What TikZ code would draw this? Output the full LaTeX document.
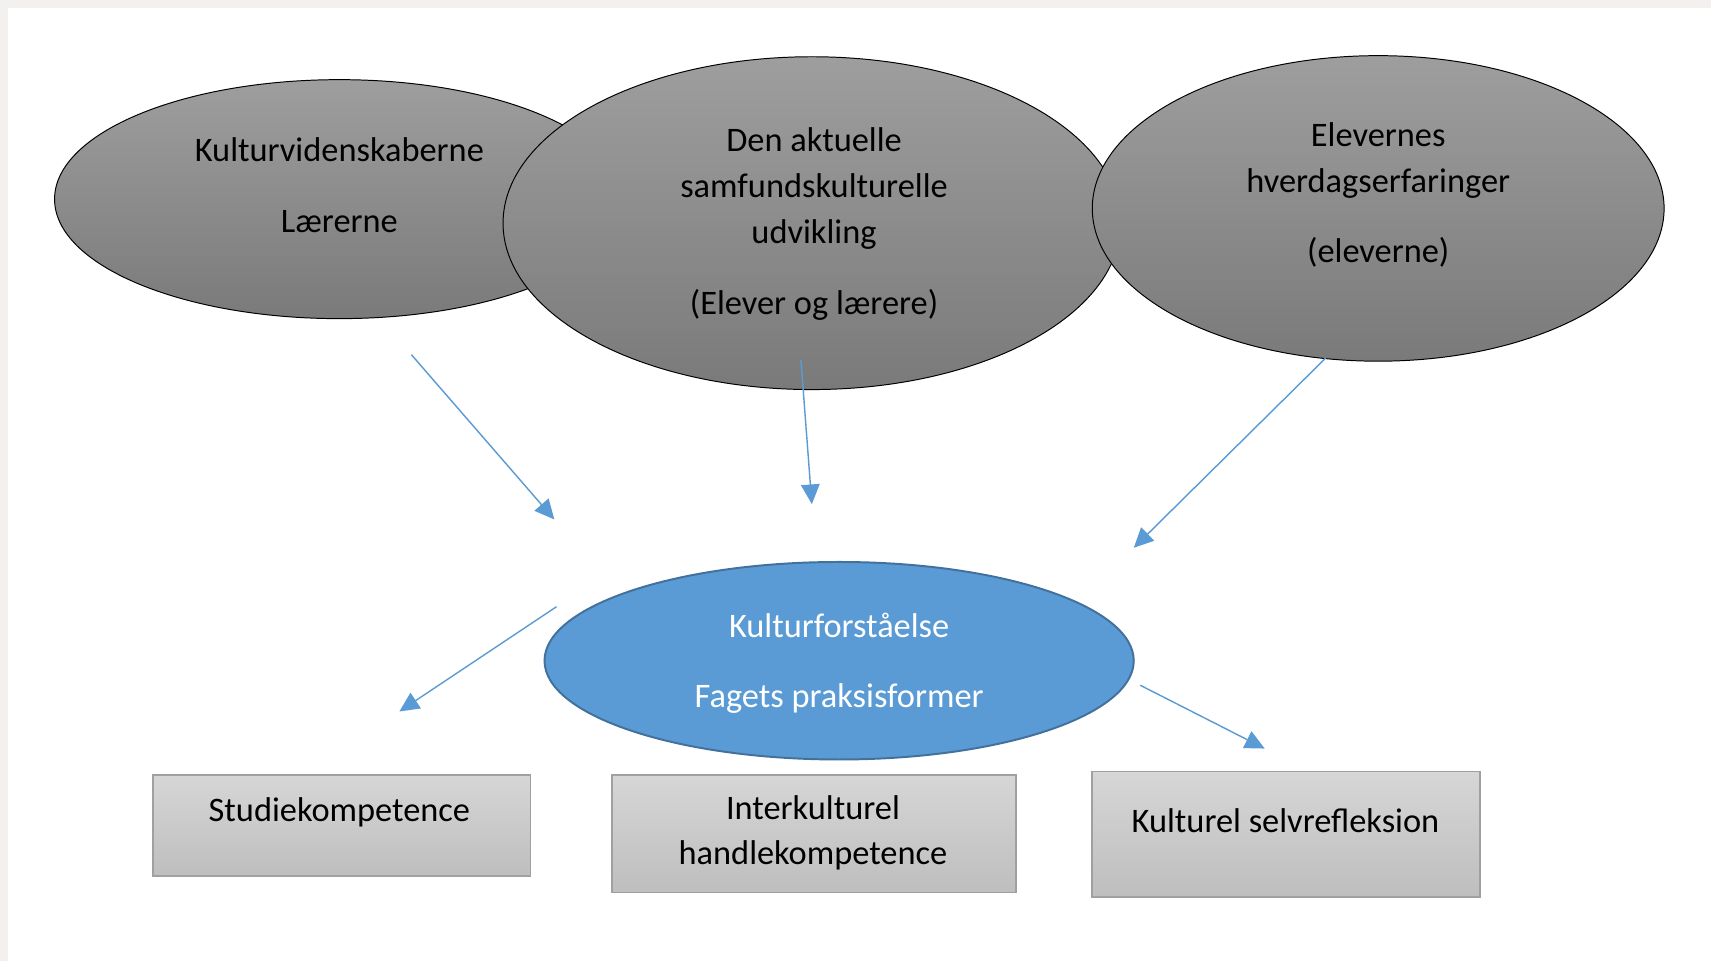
\documentclass[tikz,border=0pt]{standalone}
\usepackage{fontspec}
\setmainfont{Carlito}
\usetikzlibrary{shapes.geometric,arrows.meta}
\definecolor{frameGrey}{RGB}{242,241,239}
\definecolor{ellTop}{RGB}{158,158,158}
\definecolor{ellBot}{RGB}{122,122,122}
\definecolor{blueFill}{RGB}{91,155,213}
\definecolor{blueLine}{RGB}{65,113,156}
\definecolor{boxTop}{RGB}{214,214,214}
\definecolor{boxBot}{RGB}{190,190,190}
\definecolor{boxLine}{RGB}{160,160,160}
\definecolor{arrowBlue}{RGB}{91,155,213}
\begin{document}
\begin{tikzpicture}[x=1pt,y=-1pt,
 greyell/.style={ellipse, draw=black, line width=0.9pt, top color=ellTop, bottom color=ellBot, inner sep=0pt},
 blueell/.style={ellipse, draw=blueLine, line width=1.8pt, fill=blueFill, inner sep=0pt},
 greybox/.style={rectangle, draw=boxLine, line width=1.5pt, top color=boxTop, bottom color=boxBot, inner sep=0pt},
 txt/.style={anchor=base, inner sep=0pt, font=\fontsize{31.5}{42}\selectfont},
 wtxt/.style={txt, text=white},
 flow/.style={draw=arrowBlue, line width=1.3pt, -{Triangle[length=18pt,width=17pt]}}
]
\useasboundingbox (0,0) rectangle (1568,881);
\fill[frameGrey] (0,0) rectangle (1568,881);
\fill[white] (7,7) rectangle (1568,881);

% grey ellipses
\node[greyell, minimum width=522pt, minimum height=219pt] (e1) at (311,182.5) {};
\node[greyell, minimum width=566pt, minimum height=305pt] (e2) at (744,204.5) {};
\node[greyell, minimum width=524pt, minimum height=280pt] (e3) at (1263,191) {};

\node[txt] (e1a) at (311,148) {Kulturvidenskaberne};
\node[txt] (e1b) at (311,213) {Lærerne};

\node[txt] (e2a) at (746,139) {Den aktuelle};
\node[txt] (e2b) at (746,181) {samfundskulturelle};
\node[txt] (e2c) at (746,223) {udvikling};
\node[txt] (e2d) at (746,288) {(Elever og lærere)};

\node[txt] (e3a) at (1263,134) {Elevernes};
\node[txt] (e3b) at (1263,176) {hverdagserfaringer};
\node[txt] (e3c) at (1263,241) {(eleverne)};

% central ellipse
\node[blueell, minimum width=540pt, minimum height=181pt] (c) at (769,605.5) {};
\node[wtxt] (ca) at (769,584) {Kulturforståelse};
\node[wtxt] (cb) at (769,648) {Fagets praksisformer};

% boxes
\node[greybox, minimum width=346pt, minimum height=93pt] (b1) at (313,756.5) {};
\node[greybox, minimum width=370pt, minimum height=108pt] (b2) at (746,764) {};
\node[greybox, minimum width=355pt, minimum height=115pt] (b3) at (1178.5,764.5) {};

\node[txt] (b1a) at (311,753) {Studiekompetence};
\node[txt] (b2a) at (745,751) {Interkulturel};
\node[txt] (b2b) at (745,792) {handlekompetence};
\node[txt] (b3a) at (1178,763) {Kulturel selvrefleksion};

% arrows
\coordinate (a1s) at (377,325);
\coordinate (a1e) at (508,476);
\coordinate (a2s) at (734,330);
\coordinate (a2e) at (744,462);
\coordinate (a3s) at (1215,328);
\coordinate (a3e) at (1039,502);
\coordinate (a4s) at (510,556);
\coordinate (a4e) at (366,652);
\coordinate (a5s) at (1045,628);
\coordinate (a5e) at (1159,686);

\draw[flow] (a1s) -- (a1e);
\draw[flow] (a2s) -- (a2e);
\draw[flow] (a3s) -- (a3e);
\draw[flow] (a4s) -- (a4e);
\draw[flow] (a5s) -- (a5e);
\end{tikzpicture}
\end{document}
